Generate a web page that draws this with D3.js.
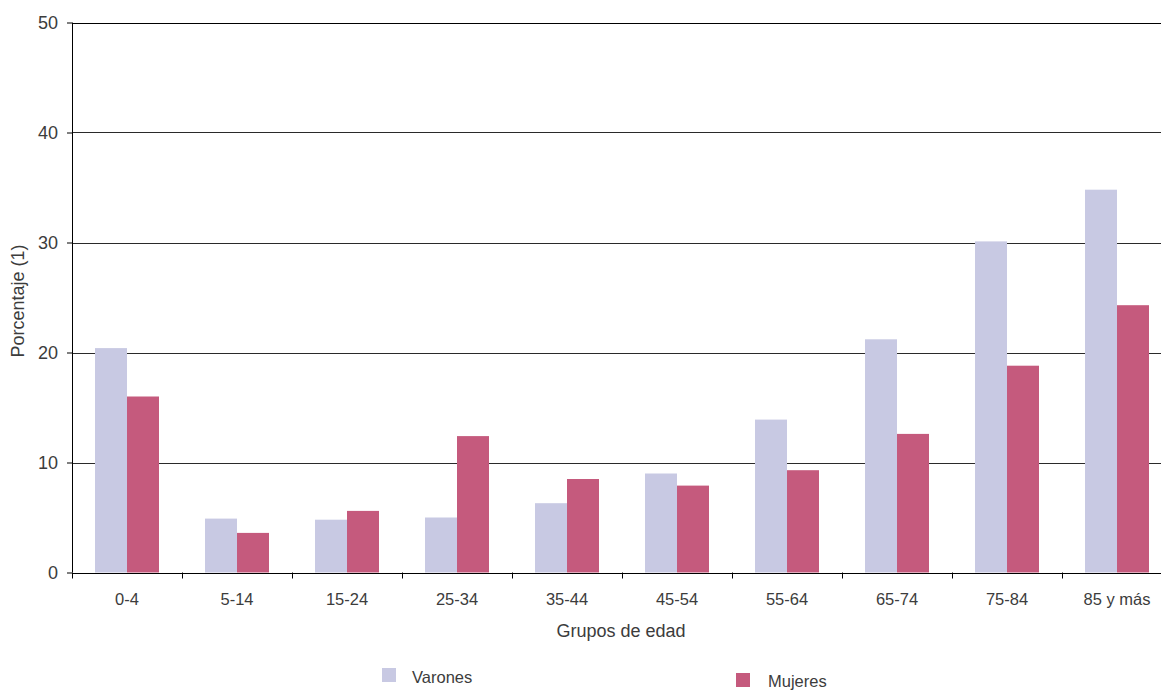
<!DOCTYPE html>
<html><head><meta charset="utf-8">
<script src="https://cdn.jsdelivr.net/npm/d3@7"></script>
<style>
body{margin:0;background:#fff;}
text{font-family:"Liberation Sans",Arial,sans-serif;fill:#3c3c3c;}
</style></head>
<body><svg id="c" width="1161" height="690"></svg>
<script>
const categories = ["0-4","5-14","15-24","25-34","35-44","45-54","55-64","65-74","75-84","85 y más"];
const varones = [20.4,4.9,4.8,5.0,6.3,9.0,13.9,21.2,30.1,34.8];
const mujeres = [16.0,3.6,5.6,12.4,8.5,7.9,9.3,12.6,18.8,24.3];
const yTicks = [0,10,20,30,40,50];
const seriesNames = ["Varones","Mujeres"];
const colors = ["#c8c9e3","#c55a7d"];

(function(){
const svg = d3.select("#c");
const mLeft = 72, mTop = 22.5, mBottom = 572.5, mRight = 1172;
const x = d3.scaleBand().domain(categories).range([mLeft, mRight]);
const y = d3.scaleLinear().domain([0,50]).range([mBottom, mTop]);
const inner = d3.scaleBand().domain(seriesNames).range([0, x.bandwidth()]).paddingOuter(0.71875).paddingInner(0);

// gridlines
svg.append("g").selectAll("line").data(yTicks.filter(d=>d>0)).join("line")
  .attr("x1", mLeft).attr("x2", 1161)
  .attr("y1", d=>Math.round(y(d))+0.5).attr("y2", d=>Math.round(y(d))+0.5)
  .attr("stroke", d => d===50 ? "#000" : "#2a2a2a").attr("stroke-width", 1);

// bars
const series = [varones, mujeres];
series.forEach((vals, si) => {
  svg.append("g").selectAll("rect").data(categories).join("rect")
    .attr("x", d => x(d) + inner(seriesNames[si]))
    .attr("width", inner.bandwidth())
    .attr("y", (d,i) => y(vals[i]))
    .attr("height", (d,i) => y(0) - y(vals[i]))
    .attr("fill", colors[si]);
});

// y axis
const yAxis = svg.append("g").attr("transform", `translate(${mLeft},0)`)
  .call(d3.axisLeft(y).tickValues(yTicks).tickSize(5).tickPadding(9));
yAxis.select(".domain").attr("stroke","#000").attr("d", `M0.5,${mTop}V${mBottom}`);
yAxis.selectAll(".tick line").attr("stroke","#000");
yAxis.selectAll("text").style("font-size","18px").attr("fill","#3c3c3c");

// x axis
const xAxis = svg.append("g").attr("transform", `translate(0,${Math.round(mBottom)+0.5})`)
  .call(d3.axisBottom(x).tickSize(0).tickPadding(20));
xAxis.select(".domain").attr("stroke","#000").attr("d", `M${mLeft},0H1161`);
xAxis.selectAll("text").style("font-size","16.5px").attr("fill","#3c3c3c");
svg.append("g").selectAll("line").data(categories).join("line")
  .attr("x1", d=>Math.round(x(d))+0.5).attr("x2", d=>Math.round(x(d))+0.5)
  .attr("y1", mBottom).attr("y2", mBottom+6).attr("stroke","#000");

// axis titles
svg.append("text").attr("x", 621).attr("y", 637).attr("text-anchor","middle")
  .style("font-size","18px").text("Grupos de edad");
svg.append("text").attr("transform","translate(24,301) rotate(-90)").attr("text-anchor","middle")
  .style("font-size","18px").text("Porcentaje (1)");

// legend
const legendPos = [{sx:382,sy:668,tx:412,ty:683},{sx:736,sy:673,tx:768,ty:687}];
seriesNames.forEach((n,i)=>{
  const p = legendPos[i];
  svg.append("rect").attr("x",p.sx).attr("y",p.sy).attr("width",14).attr("height",14).attr("fill",colors[i]);
  svg.append("text").attr("x",p.tx).attr("y",p.ty).style("font-size","16.5px").text(n);
});
})();
</script></body></html>
